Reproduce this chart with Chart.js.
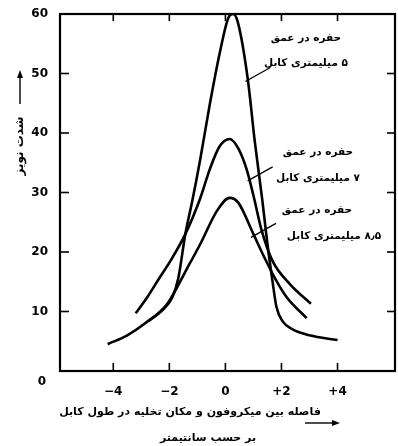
<!DOCTYPE html>
<html>
<head>
<meta charset="utf-8">
<script src="https://cdn.jsdelivr.net/npm/chart.js@4"></script>
<style>
  html, body { margin: 0; padding: 0; background: #fff; }
  #wrap { width: 398px; height: 446px; position: relative; }
</style>
</head>
<body>
<div id="wrap"><canvas id="chart" width="398" height="446"></canvas></div>
<script>
// hole 5 mm deep (sharp peak)
const depth5X = [-2.75, -2.3, -1.9, -1.68, -1.43, -1.18, -0.9, -0.55, -0.2, 0.1, 0.28, 0.45, 0.8, 1.05, 1.32, 1.5, 1.68, 1.82, 2.05, 2.4, 3.0, 4.0];
const depth5Y = [8.4, 10.0, 12.3, 15.6, 23.0, 28.6, 35.5, 45.0, 53.5, 59.3, 60.0, 58.5, 49.0, 38.5, 28.6, 21.3, 15.1, 10.8, 8.3, 7.0, 6.0, 5.2];
// hole 7 mm deep
const depth7X = [-3.2, -2.8, -2.4, -1.96, -1.43, -0.9, -0.55, -0.2, 0.15, 0.45, 0.75, 1.0, 1.3, 1.68, 2.3, 3.05];
const depth7Y = [9.7, 12.3, 15.3, 18.5, 23.0, 29.0, 34.0, 37.8, 39.0, 37.5, 34.0, 29.5, 23.5, 18.5, 14.6, 11.3];
// hole 8.5 mm deep
const depth85X = [-4.2, -3.5, -2.9, -2.07, -1.36, -0.9, -0.29, 0.15, 0.46, 1.0, 1.4, 1.79, 2.2, 2.9];
const depth85Y = [4.5, 6.0, 7.9, 11.3, 17.3, 21.3, 27.0, 29.1, 28.3, 23.0, 19.0, 15.4, 12.3, 8.9];

const xTicks = [-4, -2, 0, 2, 4];
const xTickLabels = ['−4', '−2', '0', '+2', '+4'];
const yTicks = [10, 20, 30, 40, 50, 60];

const yTitle = 'شدت نویز';
const xTitle1 = 'فاصله بین میکروفون و مکان تخلیه در طول کابل';
const xTitle2 = 'بر حسب سانتیمتر';
const notes = [
  { lines: ['حفره در عمق', '۵ میلیمتری کابل'], at: [0.82, 49] },
  { lines: ['حفره در عمق', '۷ میلیمتری کابل'], at: [0.9, 32.3] },
  { lines: ['حفره در عمق', '۸٫۵ میلیمتری کابل'], at: [1.02, 22.8] }
];

function pts(xs, ys) {
  return xs.map((x, i) => ({ x: x, y: ys[i] }));
}

const FONT = '"DejaVu Sans", sans-serif';

function line(ctx, x1, y1, x2, y2) {
  ctx.beginPath();
  ctx.moveTo(x1, y1);
  ctx.lineTo(x2, y2);
  ctx.stroke();
}

const frame = {
  id: 'frame',
  afterDraw(chart) {
    const ctx = chart.ctx;
    const a = chart.chartArea;
    const sx = chart.scales.x, sy = chart.scales.y;
    ctx.save();
    ctx.strokeStyle = '#000';
    ctx.fillStyle = '#000';
    ctx.lineWidth = 2.2;
    ctx.strokeRect(a.left, a.top, a.right - a.left, a.bottom - a.top);

    ctx.lineWidth = 1.6;
    xTicks.forEach((v) => {
      const px = sx.getPixelForValue(v);
      line(ctx, px, a.bottom, px, a.bottom - 8);
      line(ctx, px, a.top, px, a.top + 7);
    });
    yTicks.forEach((v) => {
      if (v == 60) return;
      const py = sy.getPixelForValue(v);
      line(ctx, a.left, py, a.left + 9, py);
      line(ctx, a.right, py, a.right - 8, py);
    });

    // origin label
    ctx.font = 'bold 12px ' + FONT;
    ctx.textAlign = 'center';
    ctx.textBaseline = 'middle';
    ctx.fillText('0', 42, a.bottom + 11);

    // y title with arrow
    ctx.lineWidth = 1.4;
    line(ctx, 20, 104, 20, 74);
    ctx.beginPath();
    ctx.moveTo(20, 70); ctx.lineTo(17, 78); ctx.lineTo(23, 78); ctx.closePath();
    ctx.fill();
    ctx.save();
    ctx.translate(20, 146);
    ctx.rotate(-Math.PI / 2);
    ctx.direction = 'rtl';
    ctx.font = 'bold 12px ' + FONT;
    ctx.fillText(yTitle, 0, 0);
    ctx.restore();

    // x title
    ctx.direction = 'rtl';
    ctx.font = 'bold 11px ' + FONT;
    ctx.fillText(xTitle1, 190, 412);
    ctx.fillText(xTitle2, 208, 438);
    line(ctx, 305, 423, 334, 423);
    ctx.beginPath();
    ctx.moveTo(340, 423); ctx.lineTo(332, 420); ctx.lineTo(332, 426); ctx.closePath();
    ctx.fill();

    // annotations
    ctx.font = 'bold 10.5px ' + FONT;
    const boxes = [[306, 38, 306, 63], [318, 152, 318, 178], [317, 210, 334, 236]];
    notes.forEach((n, i) => {
      const b = boxes[i];
      ctx.fillText(n.lines[0], b[0], b[1]);
      ctx.fillText(n.lines[1], b[2], b[3]);
      const px = sx.getPixelForValue(n.at[0]);
      const py = sy.getPixelForValue(n.at[1]);
      ctx.lineWidth = 1.3;
      line(ctx, px - 3, py + 2, px + 22, py - 12);
    });
    ctx.restore();
  }
};

const lineStyle = {
  showLine: true,
  borderColor: '#000',
  borderWidth: 2.6,
  pointRadius: 0,
  cubicInterpolationMode: 'monotone',
  fill: false
};

new Chart(document.getElementById('chart'), {
  type: 'scatter',
  data: {
    datasets: [
      Object.assign({ label: '5', data: pts(depth5X, depth5Y) }, lineStyle),
      Object.assign({ label: '7', data: pts(depth7X, depth7Y) }, lineStyle),
      Object.assign({ label: '8.5', data: pts(depth85X, depth85Y) }, lineStyle)
    ]
  },
  options: {
    responsive: false,
    animation: false,
    layout: { padding: { left: 0, right: 3, top: 14, bottom: 0 } },
    plugins: { legend: { display: false }, tooltip: { enabled: false } },
    scales: {
      x: {
        type: 'linear',
        min: -5.9,
        max: 6.05,
        grid: { display: false },
        border: { display: false },
        afterFit: (s) => { s.height = 75; },
        afterBuildTicks: (s) => { s.ticks = xTicks.map((v) => ({ value: v })); },
        ticks: {
          color: '#000',
          padding: 6,
          font: { family: FONT, size: 12, weight: 'bold' },
          callback: (v) => xTickLabels[xTicks.indexOf(v)]
        }
      },
      y: {
        min: 0,
        max: 60,
        grid: { display: false },
        border: { display: false },
        afterFit: (s) => { s.width = 60; },
        afterBuildTicks: (s) => { s.ticks = yTicks.map((v) => ({ value: v })); },
        ticks: {
          color: '#000',
          padding: 4,
          font: { family: FONT, size: 12, weight: 'bold' }
        }
      }
    }
  },
  plugins: [frame]
});
</script>
</body>
</html>
